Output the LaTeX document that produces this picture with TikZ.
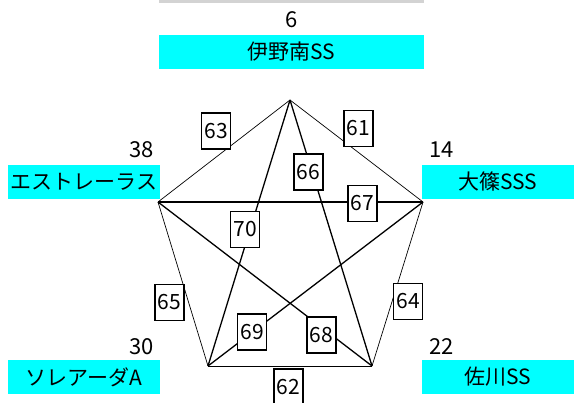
\documentclass[tikz,border=0pt]{standalone}
\usepackage{fontspec}
\setmainfont{Noto Sans CJK JP}
\definecolor{boxcyan}{RGB}{0,255,255}
\definecolor{bargray}{RGB}{211,211,211}
\begin{document}
\begin{tikzpicture}[x=1pt,y=-1pt,
  team/.style={fill=boxcyan,draw=none,minimum width=152pt,minimum height=34pt,inner sep=0pt,font=\fontsize{21}{24}\selectfont},
  seed/.style={inner sep=0pt,font=\fontsize{22}{24}\selectfont},
  thinedge/.style={line width=0.7pt},
  thickedge/.style={line width=1.3pt},
  game/.style={draw,fill=white,line width=1.1pt,minimum width=29pt,minimum height=36pt,inner sep=0pt,font=\fontsize{21}{24}\selectfont}]
\useasboundingbox (0,0) rectangle (577,403);
\fill[bargray] (159,0) rectangle (424,3);
% team boxes
\node[team,minimum width=265pt] (t6) at (291.5,52) {伊野南SS};
\node[team] (t38) at (84,182) {エストレーラス};
\node[team] (t14) at (498,182) {大篠SSS};
\node[team] (t30) at (84,377) {ソレアーダA};
\node[team] (t22) at (498,377) {佐川SS};
% seeds
\node[seed] (s6) at (292,20) {6};
\node[seed,anchor=east] (s38) at (154,150) {38};
\node[seed,anchor=west] (s14) at (429,150) {14};
\node[seed,anchor=east] (s30) at (154,347) {30};
\node[seed,anchor=west] (s22) at (429,347) {22};
% vertices
\coordinate (v6) at (290,100);
\coordinate (v14) at (423,202);
\coordinate (v22) at (372,366);
\coordinate (v30) at (208,366);
\coordinate (v38) at (158,202);
% edges
\draw[thinedge] (v6) -- (v14);
\draw[thinedge] (v30) -- (v22);
\draw[thinedge] (v6) -- (v38);
\draw[thinedge] (v14) -- (v22);
\draw[thinedge] (v38) -- (v30);
\draw[thickedge] (v6) -- (v22);
\draw[thickedge] (v38) -- (v14);
\draw[thickedge] (v38) -- (v22);
\draw[thickedge] (v14) -- (v30);
\draw[thickedge] (v6) -- (v30);
% game labels
\node[game] (g63) at (216,131) {63};
\node[game] (g61) at (358.5,128.5) {61};
\node[game] (g66) at (308.5,172) {66};
\node[game] (g67) at (362.5,203.5) {67};
\node[game] (g70) at (245,229.5) {70};
\node[game] (g65) at (169.5,302.5) {65};
\node[game] (g64) at (408,301.5) {64};
\node[game] (g69) at (252,332) {69};
\node[game] (g68) at (321.5,335) {68};
\node[game] (g62) at (288.5,387) {62};
\end{tikzpicture}
\end{document}
